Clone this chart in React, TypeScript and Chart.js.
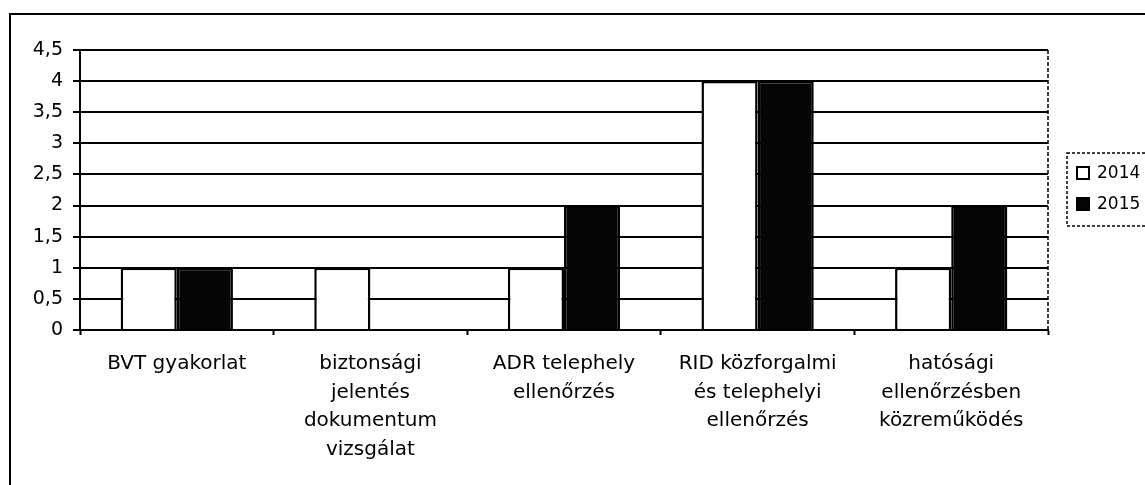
import React, { useEffect, useRef } from "react";
import { Chart, registerables } from "chart.js";

Chart.register(...registerables);

const categories: string[][] = [
  ["BVT gyakorlat"],
  ["biztonsági", "jelentés", "dokumentum", "vizsgálat"],
  ["ADR telephely", "ellenőrzés"],
  ["RID közforgalmi", "és telephelyi", "ellenőrzés"],
  ["hatósági", "ellenőrzésben", "közreműködés"],
];
const seriesNames = ["2014", "2015"];
const values2014 = [1, 1, 1, 4, 1];
const values2015 = [1, 0, 2, 4, 2];
const yTicks = [0, 0.5, 1, 1.5, 2, 2.5, 3, 3.5, 4, 4.5];

const FONT = "'DejaVu Sans', 'Liberation Sans', Arial, sans-serif";

const framePlugin = {
  id: "frame",
  afterDraw(chart: any) {
    const ctx = chart.ctx;
    const a = chart.chartArea;
    ctx.save();
    // outer frame
    ctx.strokeStyle = "#000";
    ctx.lineWidth = 2;
    ctx.strokeRect(10, 14, 1200, 600);
    // dashed right plot border
    ctx.setLineDash([4, 2]);
    ctx.lineWidth = 1.5;
    ctx.beginPath();
    ctx.moveTo(a.right, a.top);
    ctx.lineTo(a.right, a.bottom);
    ctx.stroke();
    // legend box
    ctx.setLineDash([3, 2]);
    ctx.lineWidth = 1.5;
    ctx.strokeRect(1067, 153, 200, 73);
    ctx.setLineDash([]);
    const ys = [173, 204];
    chart.data.datasets.forEach((ds: any, i: number) => {
      const y = ys[i];
      ctx.fillStyle = ds.backgroundColor;
      ctx.fillRect(1077, y - 6, 12, 12);
      ctx.strokeStyle = "#000";
      ctx.lineWidth = 2;
      ctx.strokeRect(1077, y - 6, 12, 12);
      ctx.fillStyle = "#000";
      ctx.font = `17px ${FONT}`;
      ctx.textBaseline = "middle";
      ctx.textAlign = "left";
      ctx.fillText(ds.label, 1097, y + 1);
    });
    ctx.restore();
  },
};

export default function App() {
  const ref = useRef<HTMLCanvasElement | null>(null);
  useEffect(() => {
    if (!ref.current) return;
    const chart = new Chart(ref.current, {
      type: "bar",
      data: {
        labels: categories,
        datasets: [
          {
            label: seriesNames[0],
            data: values2014,
            backgroundColor: "#ffffff",
            borderColor: "#000000",
            borderWidth: 2.5,
            categoryPercentage: 0.58,
            barPercentage: 1,
          },
          {
            label: seriesNames[1],
            data: values2015,
            backgroundColor: "#050505",
            borderColor: "#000000",
            borderWidth: 2.5,
            categoryPercentage: 0.58,
            barPercentage: 1,
          },
        ],
      },
      options: {
        responsive: false,
        animation: false,
        devicePixelRatio: 1,
        layout: { padding: { top: 50, right: 97, left: 0, bottom: 0 } },
        plugins: { legend: { display: false }, tooltip: { enabled: false } },
        scales: {
          x: {
            grid: {
              offset: true,
              drawOnChartArea: false,
              tickLength: 5,
              tickColor: "#000",
              tickWidth: 2,
            },
            border: { color: "#000", width: 2 },
            ticks: {
              color: "#000",
              padding: 15,
              maxRotation: 0,
              autoSkip: false,
              font: { family: FONT, size: 20, lineHeight: 1.42 },
            },
            afterFit(scale: any) {
              scale.height = 155;
            },
          },
          y: {
            min: 0,
            max: 4.5,
            afterBuildTicks(scale: any) {
              scale.ticks = yTicks.map((v) => ({ value: v }));
            },
            grid: {
              color: "#000",
              lineWidth: 2,
              tickLength: 7,
              tickColor: "#000",
            },
            border: { color: "#000", width: 2 },
            ticks: {
              color: "#000",
              padding: 10,
              font: { family: FONT, size: 19 },
              callback: (v: any) => String(v).replace(".", ","),
            },
            afterFit(scale: any) {
              scale.width = 80;
            },
          },
        },
      },
      plugins: [framePlugin],
    });
    return () => chart.destroy();
  }, []);
  return (
    <div style={{ position: "fixed", left: 0, top: 0, width: 1145, height: 485, background: "#fff" }}>
      <canvas ref={ref} width={1145} height={485} />
    </div>
  );
}
